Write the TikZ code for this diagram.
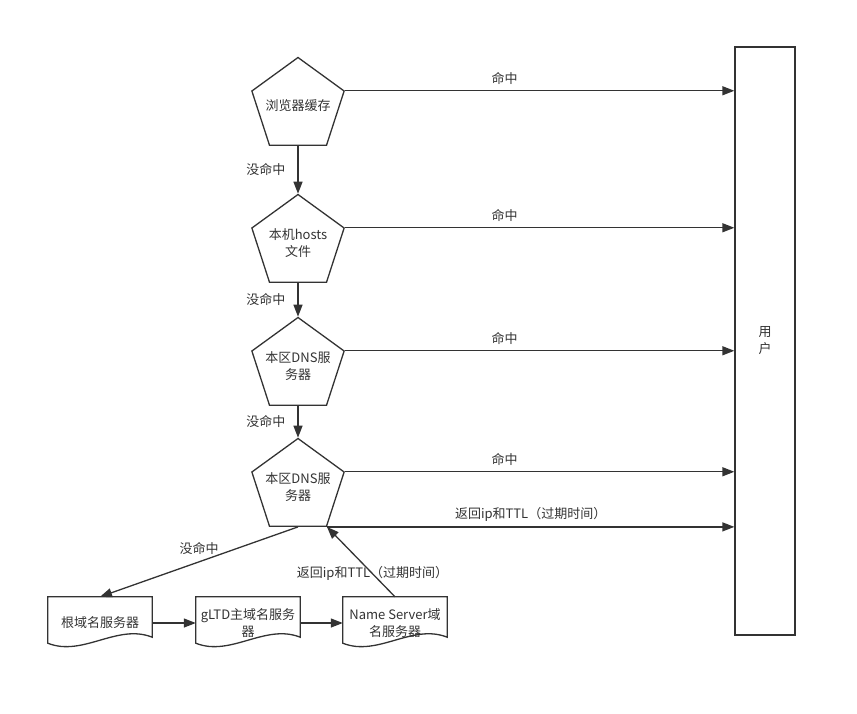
\documentclass[tikz,border=0pt]{standalone}
\usepackage{fontspec}
\setmainfont{Noto Sans CJK SC}
\usetikzlibrary{shapes.geometric,arrows.meta,calc}
\definecolor{ink}{HTML}{333333}

\begin{document}
\begin{tikzpicture}[x=1pt,y=-1pt,
    every node/.style={font=\fontsize{13}{17}\selectfont,text=ink},
    pent/.style={draw=ink,line width=1.3pt,regular polygon,regular polygon sides=5,minimum size=97pt,inner sep=0pt},
    doc/.style={minimum width=104pt,minimum height=52pt,align=center,inner sep=0pt},
    conn/.style={draw=ink,line width=1.3pt,-{Triangle[length=12pt,width=9pt]}},
    tag/.style={inner sep=2pt}]
  \useasboundingbox (0,0) rectangle (857,713);

  \node[pent,label={[align=center]center:浏览器缓存}] (browser) at (298,106) {};
  \node[pent,label={[align=center]center:本机hosts\\文件}] (hosts) at (298,243) {};
  \node[pent,label={[align=center]center:本区DNS服\\务器}] (dns1) at (298,366) {};
  \node[pent,label={[align=center]center:本区DNS服\\务器}] (dns2) at (298,487) {};
  \node[draw=ink,line width=1.3pt,minimum width=60pt,minimum height=588pt,align=center,inner sep=0pt] (user) at (765,341) {用\\户};

  \node[doc] (root) at (100,623) {根域名服务器};
  \node[doc] (gltd) at (248,623) {gLTD主域名服务\\器};
  \node[doc] (ns) at (395,623) {Name Server域\\名服务器};
  \foreach \d in {root,gltd,ns}
    \draw[ink,line width=1.3pt] (\d.north west) -- ($(\d.south west)+(0,-6)$) .. controls +(35,14) and +(-35,-14) .. ($(\d.south east)+(0,-12)$) -- (\d.north east) -- cycle;

  % hits go straight to the user
  \draw[conn] (browser.corner 5) -- node[tag,pos=0.41,above=4pt] {命中} (browser.corner 5 -| user.west);
  \draw[conn] (hosts.corner 5) -- node[tag,pos=0.41,above=4pt] {命中} (hosts.corner 5 -| user.west);
  \draw[conn] (dns1.corner 5) -- node[tag,pos=0.41,above=4pt] {命中} (dns1.corner 5 -| user.west);
  \draw[conn] (dns2.corner 5) -- node[tag,pos=0.41,above=4pt] {命中} (dns2.corner 5 -| user.west);
  \draw[conn] (dns2.corner 4) -- node[tag,above=3pt] {返回ip和TTL（过期时间）} (dns2.corner 4 -| user.west);

  % misses
  \draw[conn] (browser.south) -- node[tag,left=10pt] {没命中} (hosts.north);
  \draw[conn] (hosts.south) -- node[tag,left=10pt] {没命中} (dns1.north);
  \draw[conn] (dns1.south) -- node[tag,left=10pt] {没命中} (dns2.north);
  \draw[conn] (dns2.south) -- node[tag,above=5pt] {没命中} (root.north);

  \draw[conn] (root.east) -- (gltd.west);
  \draw[conn] (gltd.east) -- (ns.west);
  \draw[conn] (ns.north) -- node[tag,pos=0.33] {返回ip和TTL（过期时间）} (dns2.corner 4);
\end{tikzpicture}
\end{document}
